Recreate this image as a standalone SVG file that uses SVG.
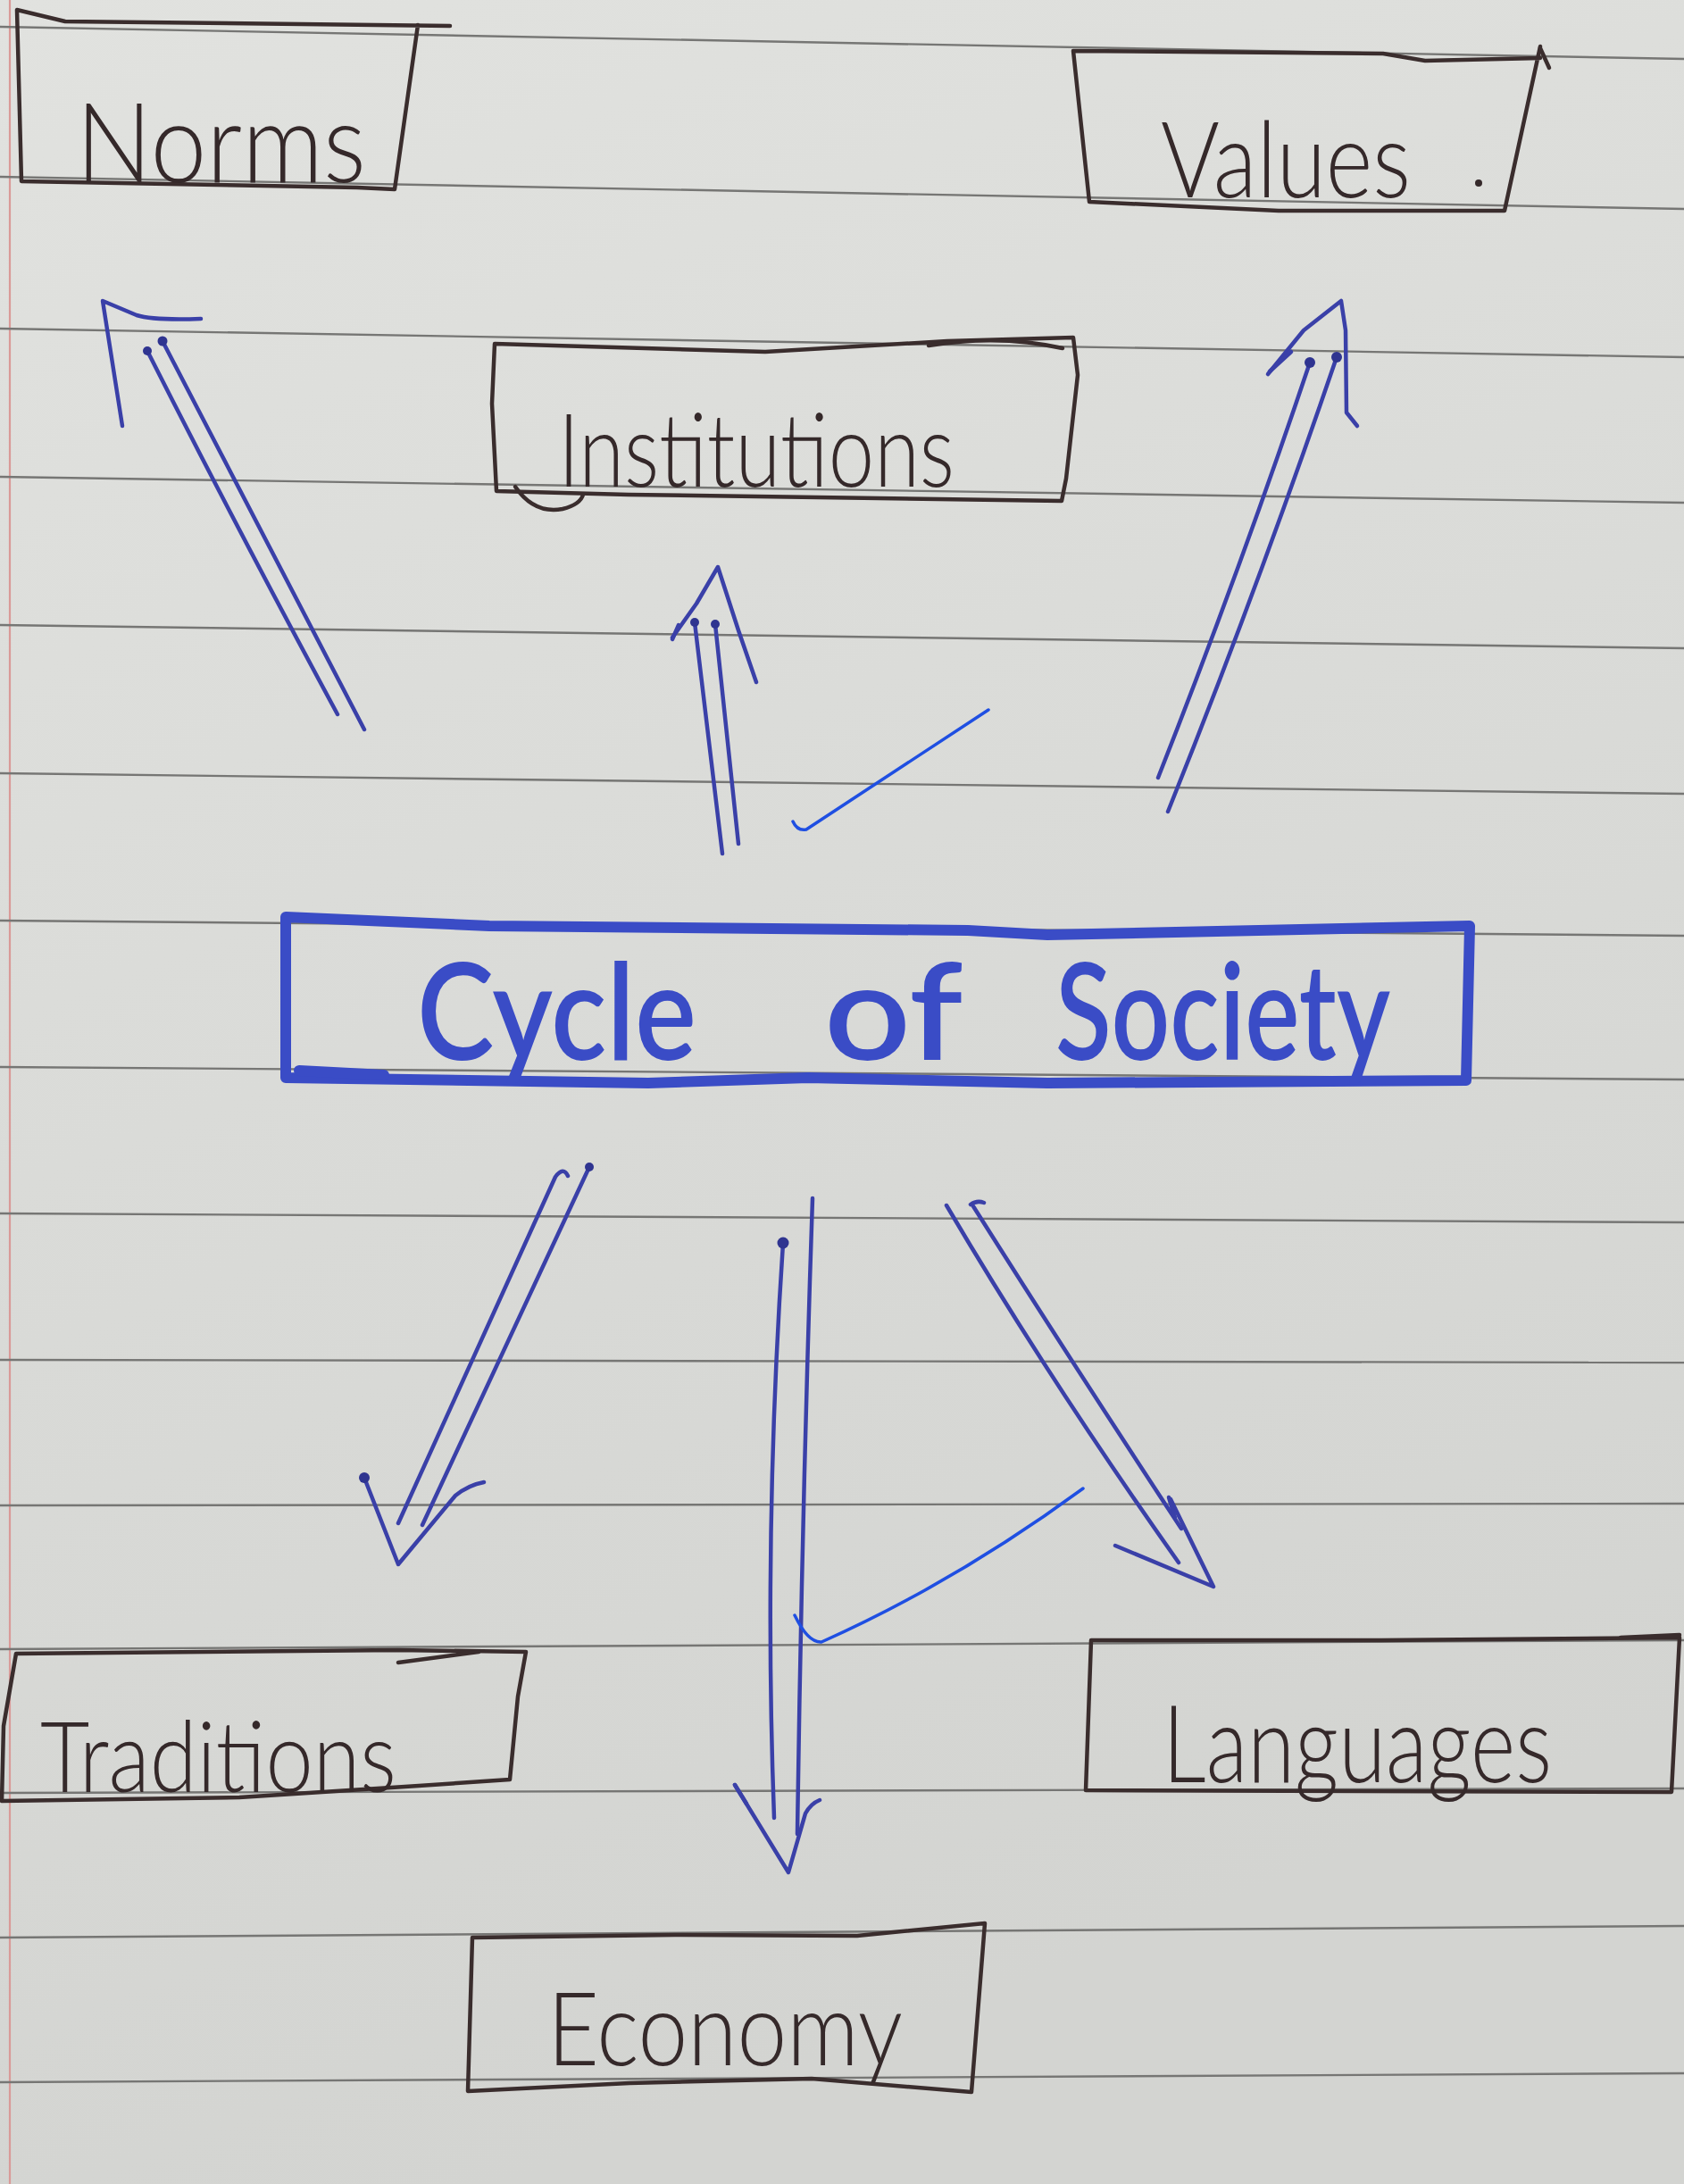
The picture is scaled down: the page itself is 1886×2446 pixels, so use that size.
<svg xmlns="http://www.w3.org/2000/svg" width="1886" height="2446" viewBox="0 0 1886 2446">
  <defs>
    <linearGradient id="paperShade" x1="0" y1="0" x2="0.3" y2="1">
      <stop offset="0" stop-color="#e1e2df"/>
      <stop offset="0.5" stop-color="#dadbd8"/>
      <stop offset="1" stop-color="#d3d4d1"/>
    </linearGradient>
    <style>
      .rule { stroke: #767674; stroke-width: 2.4; fill: none; }
      .margin { stroke: #d99a98; stroke-width: 2.2; fill: none; }
      .box { stroke: #3a2d2d; stroke-width: 4.5; fill: none; stroke-linecap: round; stroke-linejoin: round; }
      .hub { stroke: #3a4cc6; stroke-width: 12; fill: none; stroke-linecap: round; stroke-linejoin: round; }
      .label { fill: #35292a; font-family: Lato, "Open Sans", "Liberation Sans", sans-serif; font-weight: 300; }
      .hubLabel { fill: #3a4cc6; font-family: Lato, "Open Sans", "Liberation Sans", sans-serif; font-weight: 600; }
      .pen { stroke: #3a40a8; stroke-width: 4.5; fill: none; stroke-linecap: round; stroke-linejoin: round; }
      .blob { fill: #2f3490; }
      .tick { stroke: #1f4fe2; stroke-width: 3.5; fill: none; stroke-linecap: round; stroke-linejoin: round; }
    </style>
  </defs>

  <!-- ruled notebook paper -->
  <g id="paper">
    <rect x="0" y="0" width="1886" height="2446" fill="url(#paperShade)"/>
    <path class="margin" d="M11,0 L11,2446"/>
    <g id="rules">
      <path class="rule" d="M0,30 L1886,66"/>
      <path class="rule" d="M0,198 L1886,234"/>
      <path class="rule" d="M0,368 L1886,400"/>
      <path class="rule" d="M0,534 L1886,563"/>
      <path class="rule" d="M0,700 L1886,726"/>
      <path class="rule" d="M0,866 L1886,889"/>
      <path class="rule" d="M0,1031 L1886,1048"/>
      <path class="rule" d="M0,1195 L1886,1209"/>
      <path class="rule" d="M0,1359 L1886,1369"/>
      <path class="rule" d="M0,1523 L1886,1526"/>
      <path class="rule" d="M0,1686 L1886,1684"/>
      <path class="rule" d="M0,1847 L1886,1837"/>
      <path class="rule" d="M0,2008 L1886,2003"/>
      <path class="rule" d="M0,2170 L1886,2157"/>
      <path class="rule" d="M0,2332 L1886,2322"/>
    </g>
  </g>

  <!-- arrows and tick marks -->
  <g id="connectors">
    <!-- to Norms -->
    <path class="pen" d="M165,393 Q262,585 378,800"/>
    <path class="pen" d="M182,382 Q290,590 408,817"/>
    <path class="pen" d="M137,477 L115,337 L153,353 Q172,359 225,357"/>
    <circle class="blob" cx="165" cy="393" r="5"/>
    <circle class="blob" cx="182" cy="382" r="5.5"/>

    <!-- to Institutions -->
    <path class="pen" d="M778,697 L809,956"/>
    <path class="pen" d="M801,699 L827,945"/>
    <path class="pen" d="M753,714 L780,676 L804,635 L827,706 L847,764"/>
    <circle class="blob" cx="778" cy="697" r="5"/>
    <circle class="blob" cx="801" cy="699" r="5"/>
    <path class="pen" d="M753,716 L760,700" stroke-width="9"/>

    <!-- to Values -->
    <path class="pen" d="M1467,406 Q1390,635 1297,871"/>
    <path class="pen" d="M1497,400 Q1410,655 1308,909"/>
    <path class="pen" d="M1420,419 L1460,370 L1502,337 L1507,370 L1508,462 L1520,477"/>
    <path class="pen" d="M1422,416 L1446,394" stroke-width="10"/>
    <circle class="blob" cx="1467" cy="406" r="6"/>
    <circle class="blob" cx="1497" cy="400" r="6"/>

    <!-- to Traditions -->
    <path class="pen" d="M636,1317 Q631,1306 622,1318 L446,1706"/>
    <path class="pen" d="M660,1307 L473,1708"/>
    <path class="pen" d="M408,1655 L446,1752 L510,1675 Q525,1663 542,1660"/>
    <circle class="blob" cx="660" cy="1307" r="5"/>
    <circle class="blob" cx="408" cy="1655" r="6"/>

    <!-- to Economy -->
    <path class="pen" d="M877,1392 Q855,1720 867,2036"/>
    <path class="pen" d="M910,1342 Q898,1700 893,2054"/>
    <path class="pen" d="M823,1999 L883,2097 L902,2031 Q908,2020 918,2016"/>
    <circle class="blob" cx="877" cy="1392" r="6.5"/>
    <path class="pen" d="M823,1999 L836,2020" stroke-width="10"/>

    <!-- to Languages -->
    <path class="pen" d="M1060,1350 Q1175,1545 1320,1750"/>
    <path class="pen" d="M1087,1349 Q1094,1344 1102,1347 M1090,1351 Q1200,1525 1323,1712"/>
    <path class="pen" d="M1311,1679 L1359,1777 L1249,1731"/>
    <path class="pen" d="M1309,1677 L1316,1700" stroke-width="9"/>

    <!-- tick marks -->
    <path class="tick" d="M888,920 Q893,931 903,929 L1107,795"/>
    <path class="tick" d="M890,1809 Q905,1840 920,1839 Q1070,1772 1213,1667"/>
  </g>

  <!-- central node -->
  <g id="node-cycle-of-society">
    <path class="hub" d="M320,1027 L548,1037 L1084,1042 L1173,1047 L1646,1037 L1642,1210 L1173,1213 L905,1207 L726,1213 L320,1207 Z"/>
    <path class="hub" d="M335,1199 L430,1204"/>
    <text class="hubLabel" y="1187" font-size="150">
      <tspan x="467" textLength="313" lengthAdjust="spacingAndGlyphs">Cycle</tspan>
      <tspan x="923" textLength="152" lengthAdjust="spacingAndGlyphs">of</tspan>
      <tspan x="1182" textLength="375" lengthAdjust="spacingAndGlyphs">Society</tspan>
    </text>
  </g>

  <g id="node-norms">
    <path class="box" d="M504,29 L73,24 Q40,16 19,11 L24,203 L400,210 L442,212 L468,28"/>
    <text class="label" x="85" y="204" font-size="125" textLength="325" lengthAdjust="spacingAndGlyphs">Norms</text>
  </g>

  <g id="node-values">
    <path class="box" d="M1725,52 L1685,236 L1432,236 L1220,226 L1202,57 L1549,60 L1596,68 L1725,65"/>
    <path class="box" d="M1725,54 L1735,76" stroke-width="3"/>
    <text class="label" x="1300" y="221" font-size="118" textLength="280" lengthAdjust="spacingAndGlyphs">Values</text>
    <circle cx="1656" cy="205" r="4" fill="#35292a"/>
  </g>

  <g id="node-institutions">
    <path class="box" d="M554,385 L857,394 L1061,382 L1202,378 L1207,420 L1194,536 L1189,561 L704,554 L556,550 L551,452 Z"/>
    <path class="box" d="M1040,387 Q1120,374 1190,390"/>
    <path class="box" d="M577,545 Q598,576 630,570 Q650,565 653,554"/>
    <text class="label" x="625" y="545" font-size="115" textLength="444" lengthAdjust="spacingAndGlyphs">Institutions</text>
  </g>

  <g id="node-traditions">
    <path class="box" d="M18,1852 L446,1848 L589,1850 L580,1900 L571,1993 L469,2000 L268,2013 L2,2017 L4,1933 Z"/>
    <path class="box" d="M446,1862 L536,1850"/>
    <text class="label" x="45" y="2007" font-size="110" textLength="399" lengthAdjust="spacingAndGlyphs">Traditions</text>
  </g>

  <g id="node-languages">
    <path class="box" d="M1222,1837 L1547,1837 L1881,1834 L1872,2007 L1216,2005 Z"/>
    <path class="box" d="M1815,1834 L1881,1831" stroke-width="3"/>
    <text class="label" x="1302" y="1996" font-size="120" textLength="436" lengthAdjust="spacingAndGlyphs">Languages</text>
  </g>

  <g id="node-economy">
    <path class="box" d="M529,2170 L756,2167 L960,2168 L1103,2154 L1088,2343 L909,2328 L705,2333 L524,2342 Z"/>
    <text class="label" x="613" y="2313" font-size="115" textLength="398" lengthAdjust="spacingAndGlyphs">Economy</text>
  </g>
</svg>
